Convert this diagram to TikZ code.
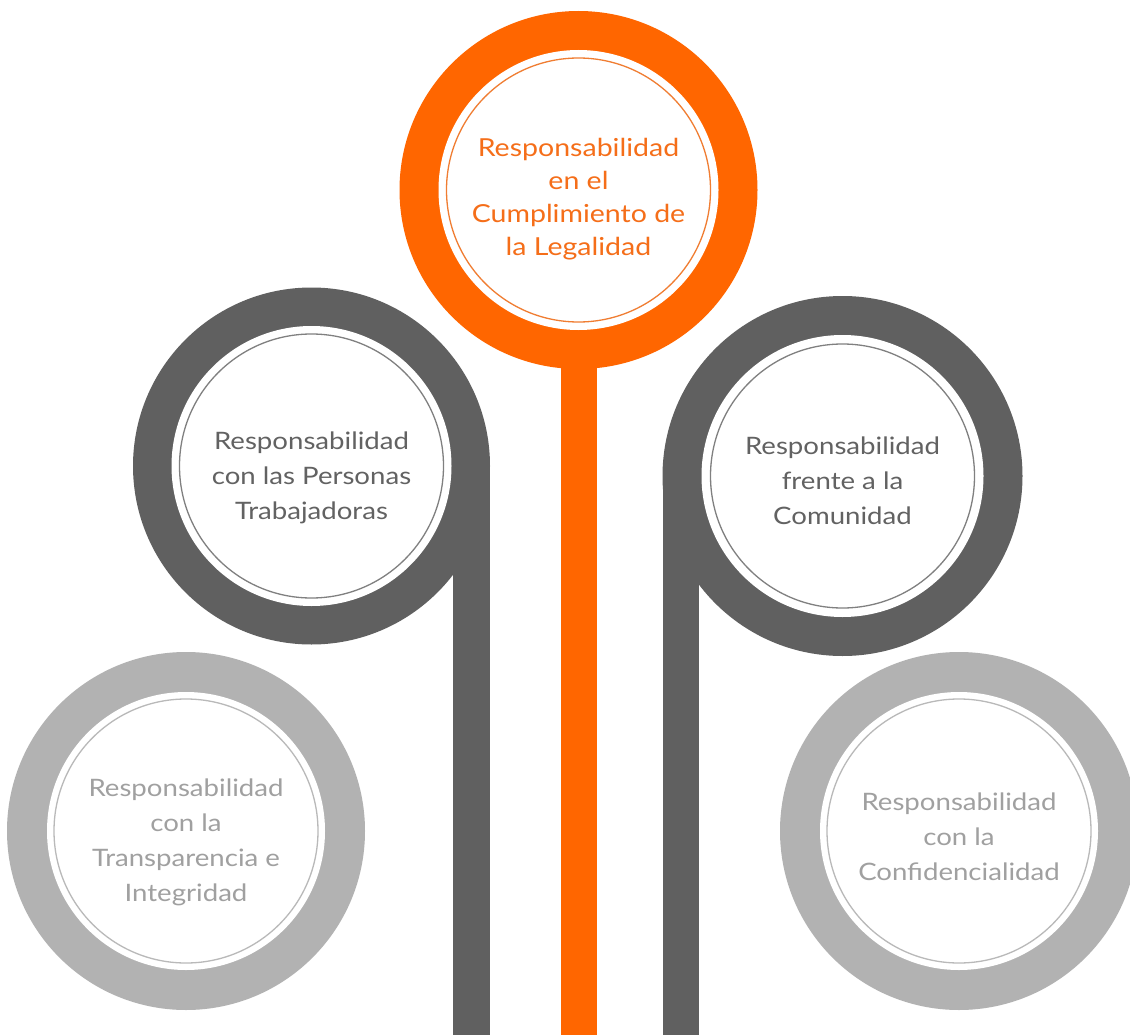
\documentclass[tikz,border=0pt]{standalone}
\usepackage{fontspec}
\setmainfont{Lato}[FakeStretch=1.15]
\definecolor{corange}{RGB}{255,102,0}
\definecolor{corangethin}{RGB}{240,125,50}
\definecolor{corangetext}{RGB}{245,110,25}
\definecolor{cdark}{RGB}{96,96,96}
\definecolor{cdarkthin}{RGB}{128,128,128}
\definecolor{cdarktext}{RGB}{98,98,98}
\definecolor{clight}{RGB}{178,178,178}
\definecolor{clightthin}{RGB}{185,185,185}
\definecolor{clighttext}{RGB}{160,160,160}
\tikzset{
  thinring/.style={circle, draw=#1, line width=1.3pt, minimum size=264pt, inner sep=0pt},
  lbl/.style={align=center, text=#1, font=\fontsize{24pt}{35pt}\selectfont, inner sep=0pt},
}
\begin{document}
\begin{tikzpicture}[x=1pt,y=-1pt]
\useasboundingbox (0,0) rectangle (1130,1035);
\clip (0,0) rectangle (1130,1035);
\fill[white] (0,0) rectangle (1130,1035);

% orange (top centre)
\fill[corange] (578.5,190) circle (179pt);
\fill[corange] (560.5,190) rectangle (596.5,1035);
\fill[white] (578.5,190) circle (140pt);
\node[thinring=corangethin] (ocirc) at (578.5,190) {};
\node[lbl=corangetext, font=\fontsize{24.8pt}{33pt}\selectfont] (otext) at (578.5,199) {Responsabilidad\\en el\\Cumplimiento de\\la Legalidad};

% dark left
\fill[cdark] (311.5,466) circle (178.5pt);
\fill[cdark] (453,466) rectangle (490,1035);
\fill[white] (311.5,466) circle (140pt);
\node[thinring=cdarkthin] (dlcirc) at (311.5,466) {};
\node[lbl=cdarktext] (dltext) at (311.5,478) {Responsabilidad\\con las Personas\\Trabajadoras};

% dark right
\fill[cdark] (842.5,476) circle (180pt);
\fill[cdark] (662.5,476) rectangle (698.5,1035);
\fill[white] (842.5,476) circle (141pt);
\node[thinring=cdarkthin] (drcirc) at (842.5,476) {};
\node[lbl=cdarktext] (drtext) at (842.5,481) {Responsabilidad\\frente a la\\Comunidad};

% light left
\fill[clight] (186,831) circle (179pt);
\fill[white] (186,831) circle (139pt);
\node[thinring=clightthin] (llcirc) at (186,831) {};
\node[lbl=clighttext] (lltext) at (186,842) {Responsabilidad\\con la\\Transparencia e\\Integridad};

% light right
\fill[clight] (959,831) circle (179pt);
\fill[white] (959,831) circle (139pt);
\node[thinring=clightthin] (lrcirc) at (959,831) {};
\node[lbl=clighttext] (lrtext) at (959,837) {Responsabilidad\\con la\\Confidencialidad};
\end{tikzpicture}
\end{document}
